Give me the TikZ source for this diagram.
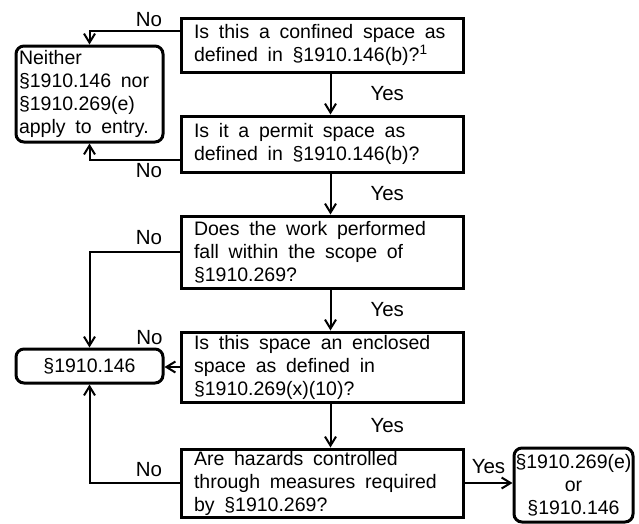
\documentclass[tikz,border=0pt]{standalone}
\usepackage{fontspec}
\setmainfont{Liberation Sans}
\usetikzlibrary{arrows.meta}

\begin{document}
\begin{tikzpicture}[x=1pt,y=-1pt,>={Straight Barb[length=9pt,width=11pt]}]

  % ====================
  % Parameters
  % ====================
  \def\boxfont{\fontsize{19.5}{23}\selectfont}
  \def\widespace{\spaceskip=0.5em\relax} % Wide word spaces
  \def\qx{179.5}    % Left edge of the questions
  \def\tx{14.5}     % Left edge of the answers on the left
  \def\drop{8.5pt}  % Shift of the downward arrows
  \def\yesgap{36pt} % Gap between a downward arrow and its label
  % ====================

  \tikzstyle{question}=[draw,line width=3pt,anchor=north west,text width=256pt,inner xsep=13pt,inner ysep=0pt,align=left,font=\boxfont,execute at begin node=\widespace]
  \tikzstyle{terminal}=[draw,line width=3pt,rounded corners=8pt,anchor=north west,inner ysep=0pt,font=\boxfont,execute at begin node=\widespace]
  \tikzstyle{flow}=[->,line width=2pt]
  \tikzstyle{answer}=[font=\fontsize{20.5}{23}\selectfont,inner sep=3pt]

  \useasboundingbox (0,0) rectangle (639,523);

  % ====================
  % Questions
  % ====================
  \node (q1) [question,minimum height=54pt] at (\qx,16.5) {Is this a confined space as\\defined in §1910.146(b)?\textsuperscript{1}};
  \node (q2) [question,minimum height=56pt] at (\qx,114.5) {Is it a permit space as\\defined in §1910.146(b)?};
  \node (q3) [question,minimum height=72pt] at (\qx,214.5) {Does the work performed\\fall within the scope of\\§1910.269?};
  \node (q4) [question,minimum height=70pt] at (\qx,330.5) {Is this space an enclosed\\space as defined in\\§1910.269(x)(10)?};
  \node (q5) [question,minimum height=68pt] at (\qx,447.5) {Are hazards controlled\\through measures required\\by §1910.269?};

  % ====================
  % Answers
  % ====================
  \node (neither) [terminal,text width=141pt,inner xsep=3pt,align=left,minimum height=96pt] at (\tx,44.5) {Neither\\§1910.146 nor\\§1910.269(e)\\apply to entry.};
  \node (sec146) [terminal,minimum width=147pt,minimum height=34pt] at (\tx,347.5) {§1910.146};
  \node (result) [terminal,text width=117pt,inner xsep=1pt,align=center,minimum height=74pt] at (512.5,446.5) {§1910.269(e)\\or\\§1910.146};

  % Yes
  \draw[flow] ([xshift=\drop]q1.south) -- ([xshift=\drop]q2.north) node[answer,midway,right=\yesgap]{Yes};
  \draw[flow] ([xshift=\drop]q2.south) -- ([xshift=\drop]q3.north) node[answer,midway,right=\yesgap]{Yes};
  \draw[flow] ([xshift=\drop]q3.south) -- ([xshift=\drop]q4.north) node[answer,midway,right=\yesgap]{Yes};
  \draw[flow] ([xshift=\drop]q4.south) -- ([xshift=\drop]q5.north) node[answer,midway,right=\yesgap]{Yes};
  \draw[flow] (q5.east) -- (q5.east -| result.west) node[answer,midway,above,yshift=5pt]{Yes};

  % No
  \draw[flow] ([yshift=14.5pt]q1.west) -| (neither.north) node[answer,pos=0.17,above]{No};
  \draw[flow] ([yshift=-15.5pt]q2.west) -| (neither.south) node[answer,pos=0.17,below]{No};
  \draw[flow] (q3.west) -| (sec146.north) node[answer,pos=0.17,above,yshift=3pt]{No};
  \draw[flow] (q4.west) -- (q4.west -| sec146.east);
  \node (no4) [answer,above] at ([xshift=-15pt]sec146.north east) {No};
  \draw[flow] (q5.west) -| (sec146.south) node[answer,pos=0.17,above,yshift=2pt]{No};
\end{tikzpicture}
\end{document}
